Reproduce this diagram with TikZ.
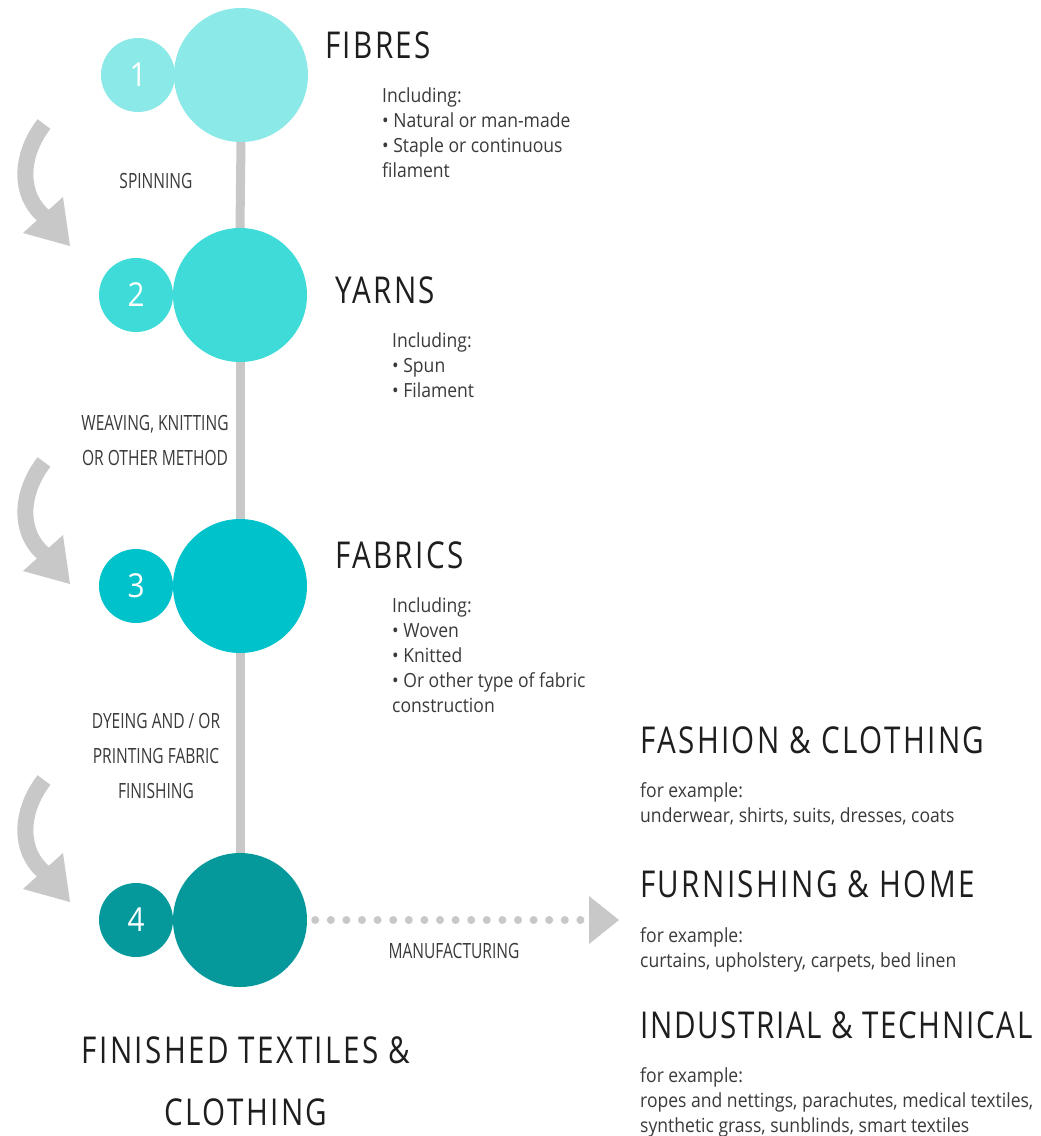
\documentclass[tikz,border=0pt]{standalone}
\usepackage{fontspec}
\setmainfont{Open Sans}
\newfontfamily\condf[FakeStretch=0.9]{Open Sans}
\newfontfamily\tightf[FakeStretch=0.74]{Open Sans}
\newfontfamily\titlef[FakeStretch=0.8,LetterSpace=6.5]{Open Sans}
\newfontfamily\titleg[FakeStretch=0.8,LetterSpace=4.5]{Open Sans}
\usetikzlibrary{arrows.meta}
\definecolor{cA}{HTML}{8BE9E8}
\definecolor{cB}{HTML}{3EDBD8}
\definecolor{cC}{HTML}{00C2CB}
\definecolor{cD}{HTML}{05999C}
\definecolor{gr}{HTML}{C8C8C8}
\definecolor{ink}{HTML}{1E1E1E}
\definecolor{txt}{HTML}{3A3A3A}
\tikzset{
  bigc/.style={circle, minimum size=134pt, inner sep=0pt, draw=none},
  smallc/.style={circle, minimum size=74pt, inner sep=0pt, draw=none, text=white, font=\condf\fontsize{33}{33}\selectfont},
  title/.style={anchor=base west, inner sep=0pt, text=ink, font=\titlef\fontsize{37}{40}\selectfont},
  body/.style={anchor=base west, inner sep=0pt, text=txt, align=left, font=\condf\fontsize{19.5}{25}\selectfont},
  lab/.style={anchor=base, inner sep=0pt, text=txt, align=center, font=\tightf\fontsize{21}{35}\selectfont},
  stem/.style={draw=gr, line width=9pt},
  bandarrow/.style={draw=gr, line width=16pt},
  dots/.style={draw=gr, line width=8pt, line cap=round, dash pattern=on 0pt off 15.6pt},
}
\begin{document}
\begin{tikzpicture}[x=1pt,y=-1pt]
\useasboundingbox[fill=white] (0,0) rectangle (1041,1136);
% circles
\node[bigc, fill=cA] (c1) at (241,75) {};
\node[smallc, fill=cA] (s1) at (138,75) {1};
\node[bigc, fill=cB] (c2) at (240,295) {};
\node[smallc, fill=cB] (s2) at (136,295) {2};
\node[bigc, fill=cC] (c3) at (240,586) {};
\node[smallc, fill=cC] (s3) at (136,586) {3};
\node[bigc, fill=cD] (c4) at (240,920) {};
\node[smallc, fill=cD] (s4) at (136,920) {4};
% stem
\draw[stem] (c1.south) -- (c2.north);
\draw[stem] (c2.south) -- (c3.north);
\draw[stem] (c3.south) -- (c4.north);
% curved arrows
\foreach \dy in {0,338,656}{
  \draw[bandarrow] (44,124+\dy) .. controls (20,155+\dy) and (18,195+\dy) .. (45,217+\dy);
  \fill[gr] (23,233+\dy) -- (63,197+\dy) -- (70,246+\dy) -- cycle;
}
% manufacturing arrow
\coordinate (mfg) at (589,920);
\draw[dots] ([xshift=8pt]c4.east) -- ([xshift=-8pt]mfg);
\fill[gr] (mfg) ++(0,-24) -- ++(30,24) -- ++(-30,24) -- cycle;
% titles
\node[title] (t1) at (325,58) {FIBRES};
\node[title] (t2) at (335,303) {YARNS};
\node[title] (t3) at (335,568) {FABRICS};
\node[body] (b1) at (382,177) {Including:\\ \textbullet{} Natural or man-made\\ \textbullet{} Staple or continuous\\ filament};
\node[body] (b2) at (392,397) {Including:\\ \textbullet{} Spun\\ \textbullet{} Filament};
\node[body] (b3) at (392,712) {Including:\\ \textbullet{} Woven\\ \textbullet{} Knitted\\ \textbullet{} Or other type of fabric\\ construction};
% process labels
\node[lab] (l1) at (156,188) {SPINNING};
\node[lab] (l2) at (155,465) {WEAVING, KNITTING\\ OR OTHER METHOD};
\node[lab] (l3) at (156,798) {DYEING AND / OR\\ PRINTING FABRIC\\ FINISHING};
\node[lab] (l4) at (454,958) {MANUFACTURING};
\node[title, anchor=base, align=center, font=\titlef\fontsize{37}{62}\selectfont] (fin) at (246,1125) {FINISHED TEXTILES \&\\ CLOTHING};
% right side
\node[title] (r1) at (640,753) {FASHION \& CLOTHING};
\node[body] (rb1) at (640,822) {for example:\\ underwear, shirts, suits, dresses, coats};
\node[title] (r2) at (640,897) {FURNISHING \& HOME};
\node[body] (rb2) at (640,967) {for example:\\ curtains, upholstery, carpets, bed linen};
\node[title, font=\titleg\fontsize{37}{40}\selectfont] (r3) at (640,1038) {INDUSTRIAL \& TECHNICAL};
\node[body] (rb3) at (640,1132) {for example:\\ ropes and nettings, parachutes, medical textiles,\\ synthetic grass, sunblinds, smart textiles};
\end{tikzpicture}
\end{document}
